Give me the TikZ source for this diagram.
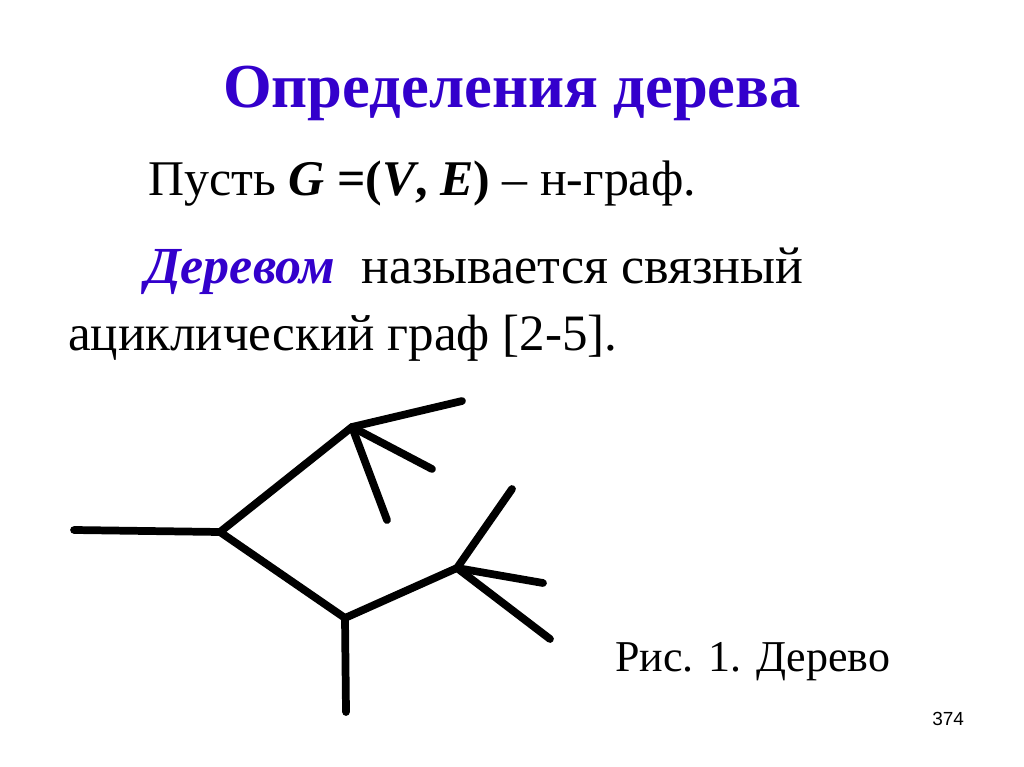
\documentclass[tikz,border=0pt]{standalone}
\usepackage{fontspec}
\setmainfont{Liberation Serif}
\newfontfamily\numfont{Liberation Sans}
\usetikzlibrary{positioning}
\definecolor{titleblue}{RGB}{51,0,204}

\begin{document}
\begin{tikzpicture}[x=0.025cm,y=-0.025cm,
        every node/.style={inner sep=0pt,anchor=base west},
        branch/.style={line width=5.5pt,line cap=round,line join=round}]
    %
    \useasboundingbox[fill=white] (0,0) rectangle (1024,767);
    %
    \node[anchor=base,text=titleblue,font=\fontsize{44.5}{50}\selectfont\bfseries] (title) at (512,108) {Определения дерева};
    \node[font=\fontsize{35.5}{42}\selectfont] (let) at (148,196) {Пусть \textbf{\textit{G}} \textbf{=(\textit{V}, \textit{E})} – н-граф.};
    \node[font=\fontsize{37}{42}\selectfont] (def) at (145,283) {\textcolor{titleblue}{\textbf{\textit{Деревом}}}\ \ называется связный};
    \node[font=\fontsize{36.3}{42}\selectfont] (def2) at (68,350) {ациклический граф [2-5].};
    \node[font=\fontsize{31.3}{36}\selectfont] (caption) at (615,671) {Рис. 1. Дерево};
    \node[font=\fontsize{13.5}{16}\selectfont\numfont] (page) at (932,725) {374};
    %
    % tree vertices
    \coordinate (r) at (74,530);
    \coordinate (a) at (220,532);
    \coordinate (b) at (352,427);
    \coordinate (b1) at (462,401);
    \coordinate (b2) at (432,469);
    \coordinate (b3) at (387,520);
    \coordinate (c) at (345,618);
    \coordinate (c1) at (346,712);
    \coordinate (d) at (457,568);
    \coordinate (d1) at (512,489);
    \coordinate (d2) at (543,583);
    \coordinate (d3) at (550,639);
    %
    \draw[branch] (r) -- (a) -- (b) -- (b1);
    \draw[branch] (b) -- (b2);
    \draw[branch] (b) -- (b3);
    \draw[branch] (a) -- (c) -- (c1);
    \draw[branch] (c) -- (d) -- (d1);
    \draw[branch] (d) -- (d2);
    \draw[branch] (d) -- (d3);
    %
\end{tikzpicture}
\end{document}
